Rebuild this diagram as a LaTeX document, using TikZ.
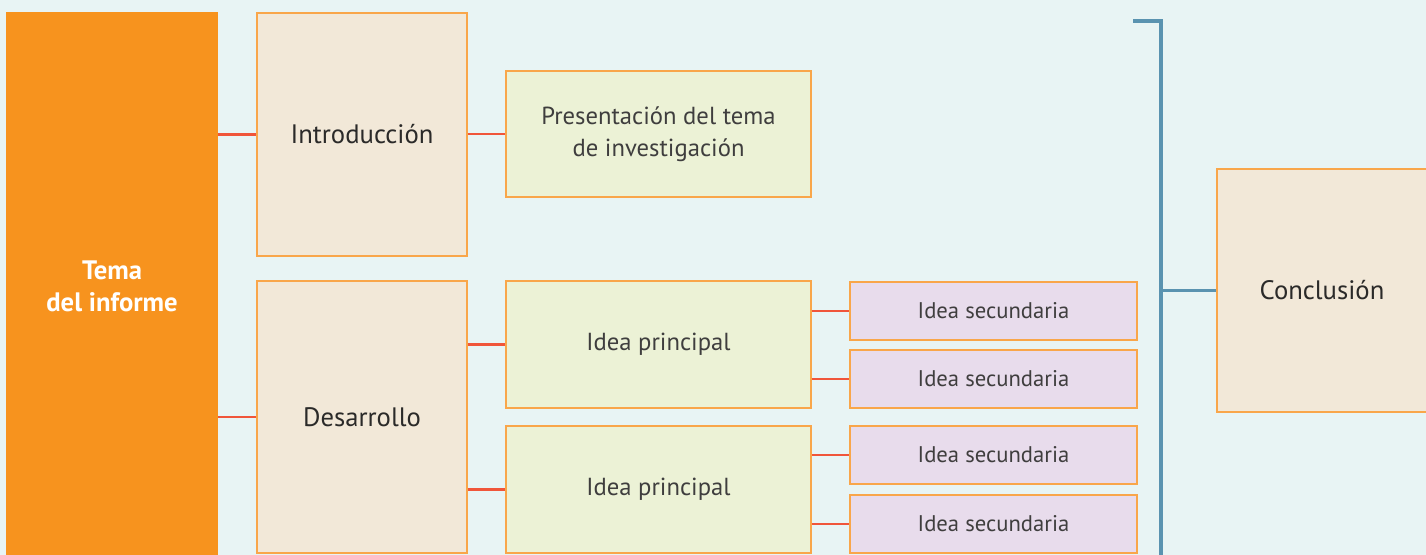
\documentclass[tikz,border=0pt]{standalone}
\usepackage{fontspec}
\setmainfont{PT Sans}
\begin{document}
\begin{tikzpicture}[x=0.75pt,y=-0.75pt,
  box/.style={draw=boxline,line width=1.1pt,inner sep=0pt,align=center,text=txt},
  tan/.style={box,fill=tanfill,font=\fontsize{20}{24}\selectfont},
  green/.style={box,fill=greenfill,text=txtlight,font=\fontsize{18.5}{24}\selectfont},
  lav/.style={box,fill=lavfill,text=txtlight,font=\fontsize{17}{20}\selectfont},
  link/.style={draw=linkred,line width=2pt},
  blue/.style={draw=bluel,line width=2.4pt}]
\definecolor{bg}{HTML}{E8F4F4}
\definecolor{orangefill}{HTML}{F7931E}
\definecolor{boxline}{HTML}{F9A64A}
\definecolor{tanfill}{HTML}{F2E8D8}
\definecolor{greenfill}{HTML}{ECF2D6}
\definecolor{lavfill}{HTML}{E8DCEC}
\definecolor{linkred}{HTML}{F0553A}
\definecolor{bluel}{HTML}{5A93B0}
\definecolor{txt}{HTML}{2B2A29}
\definecolor{txtlight}{HTML}{3F3E3E}
\useasboundingbox (0,0) rectangle (1426,555);
\clip (0,0) rectangle (1426,555);
\fill[bg] (0,0) rectangle (1426,555);
% main column
\node[fill=orangefill,inner sep=0pt,minimum width=212*0.75pt,minimum height=560*0.75pt] (tema) at (112,292) {};
\node[text=white,font=\bfseries\fontsize{20}{24}\selectfont,align=center] (tematxt) at (112,286) {Tema\\del informe};
\node[tan,minimum width=210*0.75pt,minimum height=243*0.75pt] (intro) at (362,134.5) {Introducción};
\node[tan,minimum width=210*0.75pt,minimum height=272*0.75pt] (des) at (362,417) {Desarrollo};
\node[green,minimum width=305*0.75pt,minimum height=126*0.75pt] (pres) at (658.5,134) {Presentación del tema\\de investigación};
\node[green,minimum width=305*0.75pt,minimum height=127*0.75pt] (ip1) at (658.5,344.5) {Idea principal};
\node[green,minimum width=305*0.75pt,minimum height=127*0.75pt] (ip2) at (658.5,489.5) {Idea principal};
\node[lav,minimum width=287*0.75pt,minimum height=58*0.75pt] (s1) at (993.5,311) {Idea secundaria};
\node[lav,minimum width=287*0.75pt,minimum height=58*0.75pt] (s2) at (993.5,379) {Idea secundaria};
\node[lav,minimum width=287*0.75pt,minimum height=58*0.75pt] (s3) at (993.5,455) {Idea secundaria};
\node[lav,minimum width=287*0.75pt,minimum height=58*0.75pt] (s4) at (993.5,524) {Idea secundaria};
\node[tan,minimum width=210*0.75pt,minimum height=243*0.75pt] (concl) at (1322,290.5) {Conclusión};
% connectors
\draw[link] (tema.east |- intro) -- (intro.west);
\draw[link] (tema.east |- des) -- (des.west);
\draw[link] (intro.east |- pres) -- (pres.west);
\draw[link] (des.east |- ip1) -- (ip1.west);
\draw[link] (des.east |- ip2) -- (ip2.west);
\draw[link] (ip1.east |- s1) -- (s1.west);
\draw[link] (ip1.east |- s2) -- (s2.west);
\draw[link] (ip2.east |- s3) -- (s3.west);
\draw[link] (ip2.east |- s4) -- (s4.west);
% bracket
\coordinate (btop) at (1133,21);
\coordinate (bcorner) at (1161,21);
\coordinate (bbot) at (1161,560);
\draw[blue] (btop) -- (bcorner) -- (bbot);
\draw[blue] (bcorner |- concl) -- (concl.west);
\end{tikzpicture}
\end{document}
